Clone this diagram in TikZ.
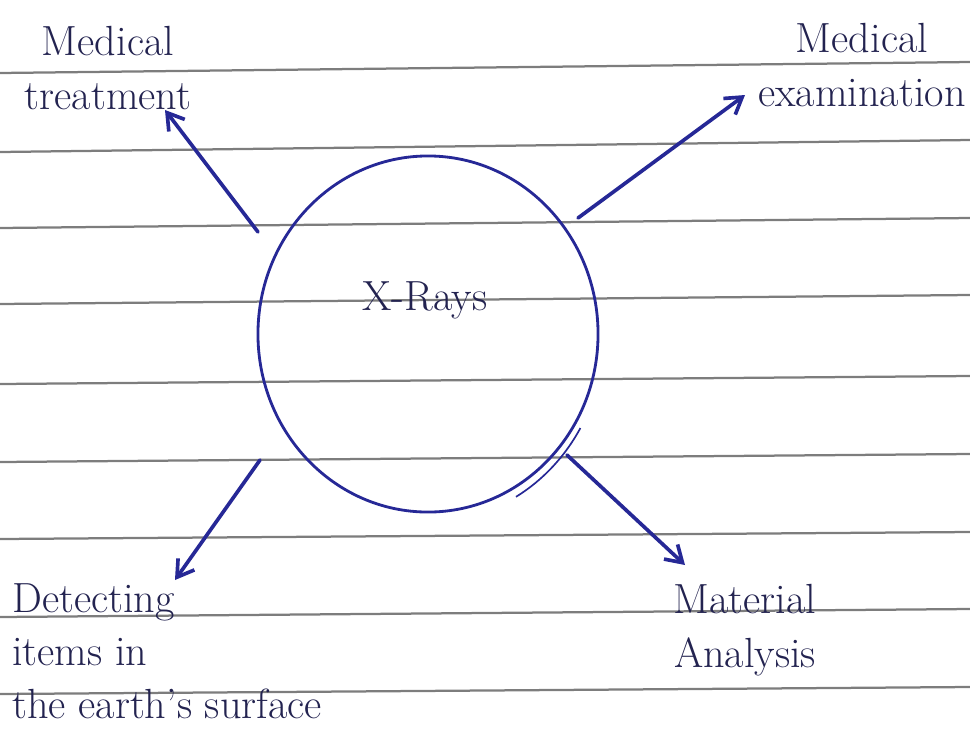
\documentclass[tikz,border=0pt]{standalone}
\usetikzlibrary{arrows.meta,shapes.geometric}
\definecolor{ink}{RGB}{38,40,150}
\definecolor{pen}{RGB}{35,35,80}
\definecolor{rule}{RGB}{125,125,125}

\begin{document}
\begin{tikzpicture}[x=0.025cm,y=-0.025cm,>={Straight Barb[length=4mm,width=5mm]},
  lbl/.style={text=pen,font=\fontsize{30}{38}\selectfont,inner sep=0pt},
  arr/.style={->,ink,line width=2.6pt,line cap=round}]
  \useasboundingbox (0,0) rectangle (970,738);
  % ruled paper
  \foreach \yl/\yr in {73/62,152/140,228/218,304/295,384/376,462/454,539/532,617/609,694/687}
    \draw[rule,line width=1.6pt] (0,\yl) -- (970,\yr);
  % centre circle
  \node[draw=ink,line width=2pt,ellipse,minimum width=8.5cm,minimum height=8.9cm,inner sep=0pt] (xray) at (428,334) {};
  \node[lbl] (xlbl) at (425,300) {X-Rays};
  \draw[ink,line width=1.2pt] (428,334) ++(30:176 and 188) arc[start angle=30,end angle=60,x radius=176,y radius=188];
  % uses
  \node[lbl,align=center] (treat) at (108,68) {Medical\\treatment};
  \node[lbl,align=center] (exam) at (862,65) {Medical\\examination};
  \node[lbl,align=left,anchor=north west] (detect) at (12,583) {Detecting\\items in\\the earth's surface};
  \node[lbl,align=center] (mater) at (745,630) {Material\\Analysis};
  % arrows out of the circle
  \coordinate (trS) at (258,232); \coordinate (trE) at (165,110);
  \coordinate (exS) at (578,218); \coordinate (exE) at (745,95);
  \coordinate (deS) at (260,460); \coordinate (deE) at (175,580);
  \coordinate (maS) at (567,455); \coordinate (maE) at (685,565);
  \draw[arr] (trS) -- (trE);
  \draw[arr] (exS) -- (exE);
  \draw[arr] (deS) -- (deE);
  \draw[arr] (maS) -- (maE);
\end{tikzpicture}
\end{document}
